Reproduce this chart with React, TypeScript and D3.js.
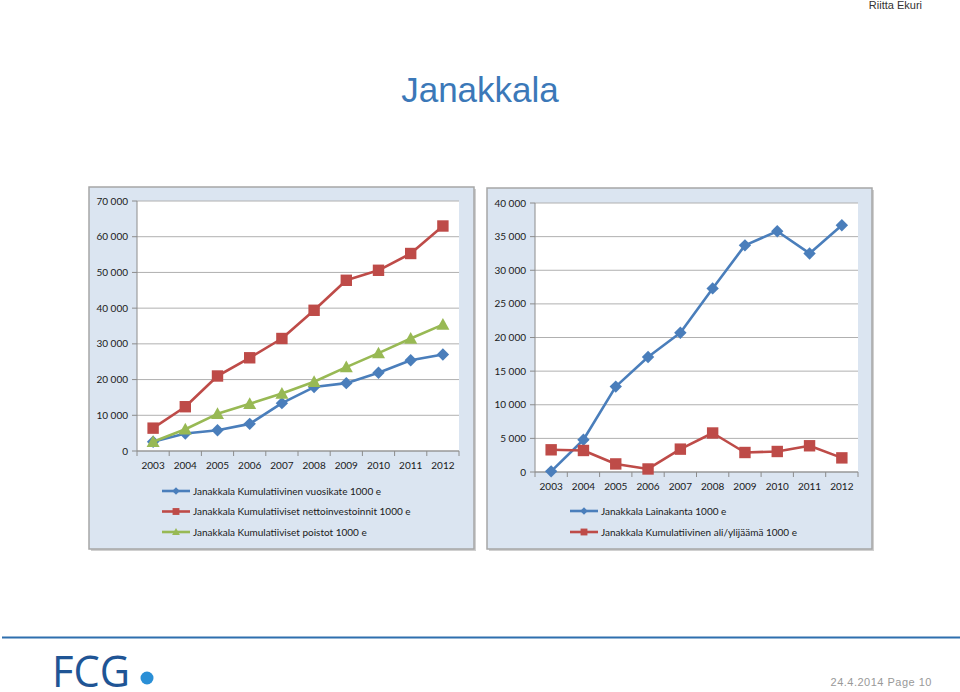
import React from "react";
import * as d3 from "d3";

const years = ["2003","2004","2005","2006","2007","2008","2009","2010","2011","2012"];
const vuosikate = [2600, 4900, 5800, 7600, 13400, 17900, 19000, 21900, 25400, 27000];
const nettoinvestoinnit = [6400, 12400, 21000, 26100, 31500, 39400, 47800, 50600, 55300, 63000];
const poistot = [2600, 6100, 10400, 13200, 16100, 19400, 23500, 27400, 31500, 35400];
const lainakanta = [100, 4800, 12700, 17100, 20700, 27300, 33700, 35800, 32500, 36700];
const alijaama = [3300, 3200, 1200, 450, 3400, 5800, 2900, 3050, 3900, 2100];
const leftTicks = [0, 10000, 20000, 30000, 40000, 50000, 60000, 70000];
const rightTicks = [0, 5000, 10000, 15000, 20000, 25000, 30000, 35000, 40000];
const leftLegend = [
  "Janakkala Kumulatiivinen vuosikate 1000 e",
  "Janakkala Kumulatiiviset nettoinvestoinnit 1000 e",
  "Janakkala Kumulatiiviset poistot 1000 e",
];
const rightLegend = [
  "Janakkala Lainakanta 1000 e",
  "Janakkala Kumulatiivinen ali/ylijäämä 1000 e",
];

const BLUE = "#4a7ebb";
const RED = "#be4b48";
const GREEN = "#98b954";
const FONT = "Lato, 'Liberation Sans', sans-serif";

const fmt = (v: number) => {
  const s = String(v);
  return s.length > 3 ? s.slice(0, s.length - 3) + " " + s.slice(s.length - 3) : s;
};

type Shape = "diamond" | "square" | "triangle";

function Marker({ x, y, shape, color, size = 1 }: { x: number; y: number; shape: Shape; color: string; size?: number }) {
  if (shape === "square") {
    const s = 5.7 * size;
    return <rect x={x - s} y={y - s} width={2 * s} height={2 * s} fill={color} />;
  }
  if (shape === "diamond") {
    const s = 6.2 * size;
    return <path d={`M${x},${y - s}L${x + s},${y}L${x},${y + s}L${x - s},${y}Z`} fill={color} />;
  }
  const s = 6.5 * size;
  return <path d={`M${x},${y - s}L${x + s},${y + s * 0.8}L${x - s},${y + s * 0.8}Z`} fill={color} />;
}

type Series = { values: number[]; color: string; shape: Shape };

function Panel({
  px, py, pw, ph, plotX0, plotX1, plotY0, plotY1, maxY, ticks, series, xLabelY, legend, legendX, legendY0, legendStep,
}: {
  px: number; py: number; pw: number; ph: number;
  plotX0: number; plotX1: number; plotY0: number; plotY1: number;
  maxY: number; ticks: number[]; series: Series[]; xLabelY: number;
  legend: string[]; legendX: number; legendY0: number; legendStep: number;
}) {
  const x = d3.scaleBand<string>().domain(years).range([plotX0, plotX1]);
  const y = d3.scaleLinear().domain([0, maxY]).range([plotY1, plotY0]);
  const cx = (yr: string) => (x(yr) as number) + x.bandwidth() / 2;
  const line = d3.line<number>().x((_, i) => cx(years[i])).y((v) => y(v));
  return (
    <g>
      <rect x={px + 2} y={py + 2} width={pw} height={ph} fill="#d0d0d0" />
      <rect x={px} y={py} width={pw} height={ph} fill="#dbe5f1" stroke="#a6a6a6" strokeWidth={1.5} />
      <rect x={plotX0} y={plotY0} width={plotX1 - plotX0} height={plotY1 - plotY0} fill="#ffffff" />
      {ticks.map((t) => (
        <g key={t}>
          <line x1={plotX0} x2={plotX1} y1={y(t)} y2={y(t)} stroke="#b0b0b0" strokeWidth={1} />
          <line x1={plotX0 - 5} x2={plotX0} y1={y(t)} y2={y(t)} stroke="#8c8c8c" strokeWidth={1} />
          <text x={plotX0 - 9} y={y(t)} dy="0.35em" textAnchor="end" fontSize={10} fontFamily={FONT} fill="#1a1a1a">
            {fmt(t)}
          </text>
        </g>
      ))}
      <line x1={plotX0} x2={plotX0} y1={plotY0} y2={plotY1} stroke="#8c8c8c" strokeWidth={1} />
      <line x1={plotX0} x2={plotX1} y1={plotY1} y2={plotY1} stroke="#8c8c8c" strokeWidth={1} />
      {years.map((yr) => (
        <line key={"t" + yr} x1={x(yr) as number} x2={x(yr) as number} y1={plotY1} y2={plotY1 + 5} stroke="#8c8c8c" />
      ))}
      <line x1={plotX1} x2={plotX1} y1={plotY1} y2={plotY1 + 5} stroke="#8c8c8c" />
      {years.map((yr) => (
        <text key={"l" + yr} x={cx(yr)} y={xLabelY} dy="0.35em" textAnchor="middle" fontSize={10} fontFamily={FONT} fill="#1a1a1a">
          {yr}
        </text>
      ))}
      {series.map((s, k) => (
        <g key={k}>
          <path d={line(s.values) || ""} fill="none" stroke={s.color} strokeWidth={2.6} strokeLinejoin="round" />
          {s.values.map((v, i) => (
            <Marker key={i} x={cx(years[i])} y={y(v)} shape={s.shape} color={s.color} />
          ))}
        </g>
      ))}
      {legend.map((name, k) => {
        const ly = legendY0 + k * legendStep;
        const s = series[k];
        return (
          <g key={name}>
            <line x1={legendX} x2={legendX + 28} y1={ly} y2={ly} stroke={s.color} strokeWidth={2.6} />
            <Marker x={legendX + 14} y={ly} shape={s.shape} color={s.color} size={0.6} />
            <text x={legendX + 31} y={ly} dy="0.35em" fontSize={10} fontFamily={FONT} fill="#1a1a1a">
              {name}
            </text>
          </g>
        );
      })}
    </g>
  );
}

export default function App() {
  return (
    <svg width={960} height={692} style={{ position: "absolute", left: 0, top: 0, background: "#ffffff" }}>
      <rect width={960} height={692} fill="#ffffff" />
      <text x={922} y={5} dy="0.35em" textAnchor="end" fontSize={11} fontFamily="'Liberation Sans', Arial, sans-serif" fill="#333333">
        Riitta Ekuri
      </text>
      <text x={480} y={102} textAnchor="middle" fontSize={35} fontFamily="'Liberation Sans', Arial, sans-serif" fill="#3b78b8">
        Janakkala
      </text>
      <Panel
        px={89} py={187} pw={385} ph={362}
        plotX0={137} plotX1={459} plotY0={201} plotY1={451}
        maxY={70000} ticks={leftTicks}
        series={[
          { values: vuosikate, color: BLUE, shape: "diamond" },
          { values: nettoinvestoinnit, color: RED, shape: "square" },
          { values: poistot, color: GREEN, shape: "triangle" },
        ]}
        xLabelY={465}
        legend={leftLegend} legendX={162} legendY0={491} legendStep={20.5}
      />
      <Panel
        px={487} py={188} pw={385} ph={361}
        plotX0={535} plotX1={858} plotY0={203} plotY1={472}
        maxY={40000} ticks={rightTicks}
        series={[
          { values: lainakanta, color: BLUE, shape: "diamond" },
          { values: alijaama, color: RED, shape: "square" },
        ]}
        xLabelY={486}
        legend={rightLegend} legendX={570} legendY0={511} legendStep={21}
      />
      <line x1={2} x2={960} y1={637.5} y2={637.5} stroke="#2e6fae" strokeWidth={2} />
      <text x={52} y={687} fontSize={44} fontFamily="'Open Sans', 'Liberation Sans', sans-serif" fill="#1f5595" textLength={78} lengthAdjust="spacingAndGlyphs">
        FCG
      </text>
      <circle cx={147} cy={678} r={6.5} fill="#2a8fd6" />
      <text x={932} y={682} dy="0.35em" textAnchor="end" fontSize={11} fontFamily="'Liberation Sans', Arial, sans-serif" fill="#999999" letterSpacing={0.5}>
        24.4.2014  Page 10
      </text>
    </svg>
  );
}
